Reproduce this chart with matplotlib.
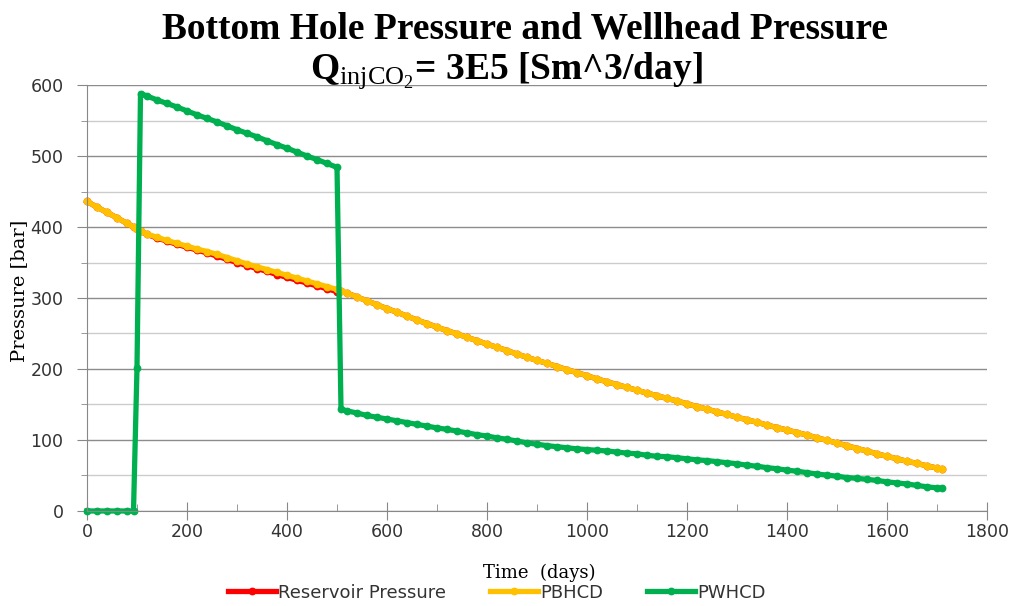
import matplotlib
matplotlib.use("Agg")
import matplotlib.pyplot as plt
from matplotlib.ticker import MultipleLocator

# simulation output, time in days, pressures in bar
days = [0, 20, 40, 60, 80, 93, 100, 107,
        120, 140, 160, 180, 200, 220, 240, 260, 280, 300,
        320, 340, 360, 380, 400, 420, 440, 460, 480, 500, 508,
        520, 540, 560, 580, 600, 620, 640, 660, 680, 700,
        720, 740, 760, 780, 800, 820, 840, 860, 880, 900,
        920, 940, 960, 980, 1000, 1020, 1040, 1060, 1080, 1100,
        1120, 1140, 1160, 1180, 1200, 1220, 1240, 1260, 1280, 1300,
        1320, 1340, 1360, 1380, 1400, 1420, 1440, 1460, 1480, 1500,
        1520, 1540, 1560, 1580, 1600, 1620, 1640, 1660, 1680, 1700, 1710]

p_res = [436, 428, 420.5, 413, 405, 400, 397.5, 394.5,
         389.5, 384.5, 380, 375.5, 371.5, 367.5, 363.5, 359, 354.5, 350,
         345.5, 341.5, 337.5, 333, 329, 325, 321, 317, 313, 309, 309.5,
         307, 301.5, 296, 290.5, 285, 280, 274.5, 269, 264, 259,
         254, 249.5, 244.5, 240, 235, 230.5, 226, 221, 216.5, 212,
         208, 203.5, 199, 195, 190.5, 186, 182, 178, 174, 170,
         166, 162.5, 158.5, 155, 151, 147, 143.5, 139.5, 136, 132,
         128.5, 125, 121, 117.5, 114, 110.5, 107, 103, 99.5, 95.5,
         92, 88, 84.5, 80.5, 77, 73.5, 70, 67, 63.5, 60.5, 59]

p_bh = [436, 428, 420.5, 413, 405, 400, 397.5, 394.5,
        390, 385.5, 381, 377, 373, 369, 365.5, 361.5, 357, 352.5,
        348, 344, 340, 336, 332, 328, 324, 320, 316, 312, 310.5,
        307, 301.5, 296, 290.5, 285, 280, 274.5, 269, 264, 259,
        254, 249.5, 244.5, 240, 235, 230.5, 226, 221, 216.5, 212,
        208, 203.5, 199, 195, 190.5, 186, 182, 178, 174, 170,
        166, 162.5, 158.5, 155, 151, 147, 143.5, 139.5, 136, 132,
        128.5, 125, 121, 117.5, 114, 110.5, 107, 103, 99.5, 95.5,
        92, 88, 84.5, 80.5, 77, 73.5, 70, 67, 63.5, 60.5, 59]

p_wh = [0, 0, 0, 0, 0, 0, 202, 588,
        584.5, 579, 574, 569, 563.5, 558, 553, 548, 542.5, 537,
        532, 527, 521.5, 516, 511, 505.5, 500, 495, 489.5, 484, 143.5,
        141, 138, 134.5, 132, 129.5, 127, 124.5, 122, 119.5, 117,
        115, 112.5, 110, 107.5, 105.5, 103, 101, 98.5, 96, 94,
        92, 90.5, 89, 87.5, 86.5, 85.5, 84.5, 83, 81.5, 80.5,
        78.5, 77, 76.5, 75, 73.5, 72, 71, 69.5, 68, 66.5,
        64.5, 63, 61, 59.5, 57.5, 56, 54, 52, 50.5, 49,
        47, 46, 44.5, 43, 41, 39.5, 38, 36, 34, 32.5, 32]

plt.rcParams['mathtext.fontset'] = 'custom'
plt.rcParams['mathtext.rm'] = 'Liberation Serif'
plt.rcParams['mathtext.it'] = 'Liberation Serif'

fig, ax = plt.subplots(figsize=(10.14, 6.06), dpi=100)
fig.subplots_adjust(left=0.0858, right=0.9734, bottom=0.1568, top=0.8597)

style = dict(lw=3.8, marker='o', markersize=4.6, clip_on=False)
ax.plot(days, p_res, color='#FF0000', label='Reservoir Pressure', **style)
ax.plot(days, p_bh, color='#FFC000', label='PBHCD', **style)
ax.plot(days, p_wh, color='#00B050', label='PWHCD', **style)

ax.set_xlim(0, 1800)
ax.set_ylim(0, 600)
ax.xaxis.set_major_locator(MultipleLocator(200))
ax.xaxis.set_minor_locator(MultipleLocator(100))
ax.yaxis.set_major_locator(MultipleLocator(100))
ax.yaxis.set_minor_locator(MultipleLocator(50))

ax.grid(which='major', axis='y', color='#8c8c8c', lw=1)
ax.grid(which='minor', axis='y', color='#cccccc', lw=1)
ax.set_axisbelow(True)

for side in ['top', 'right']:
    ax.spines[side].set_visible(False)
for side in ['left', 'bottom']:
    ax.spines[side].set_color('#888888')

ax.tick_params(axis='x', which='major', direction='inout', length=13, color='#888888',
               labelsize=12.5, labelcolor='#333333', pad=2)
ax.tick_params(axis='x', which='minor', direction='in', length=5, color='#888888')
ax.tick_params(axis='y', which='major', direction='out', length=7, color='#888888',
               labelsize=12.5, labelcolor='#333333', pad=10)
ax.tick_params(axis='y', which='minor', direction='out', length=4, color='#888888')

ax.set_xlabel('Time  (days)', family='DejaVu Serif', fontsize=13)
ax.xaxis.set_label_coords(0.503, -0.125)
fig.text(0.019, 0.52, 'Pressure [bar]', family='DejaVu Serif', fontsize=14,
         rotation=90, ha='center', va='center')

fig.text(0.518, 0.937, 'Bottom Hole Pressure and Wellhead Pressure',
         family='Liberation Serif', weight='bold', fontsize=27, ha='center', va='baseline')
fig.text(0.499, 0.871, r'Q$_{\mathrm{injCO}_2}$= 3E5 [Sm^3/day]',
         family='Liberation Serif', weight='bold', fontsize=27, ha='center', va='baseline')

ax.legend(loc='center', bbox_to_anchor=(0.49, 0.022), bbox_transform=fig.transFigure,
          ncol=3, frameon=False, fontsize=13, handlelength=2.65, handletextpad=0.15,
          columnspacing=2.4, labelcolor='#333333')

fig.savefig('out.png', dpi=100)
